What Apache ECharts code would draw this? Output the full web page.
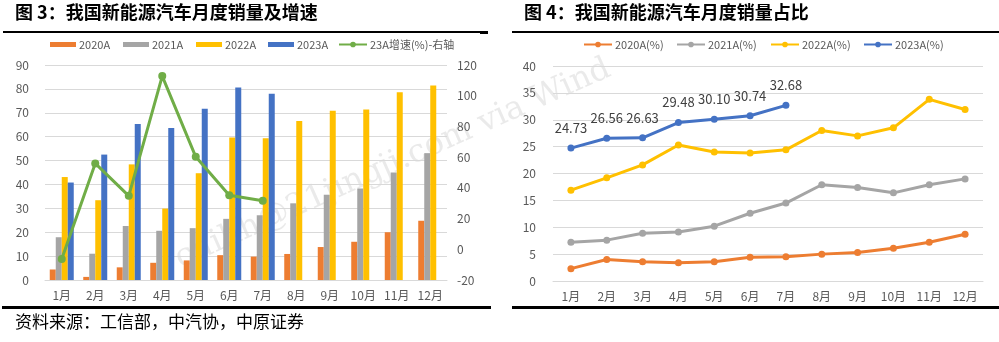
<!DOCTYPE html>
<html><head><meta charset="utf-8">
<script src="https://cdn.jsdelivr.net/npm/echarts@6/dist/echarts.min.js"></script>
<style>html,body{margin:0;padding:0;background:#fff}#c{width:999px;height:342px}</style>
</head><body><div id="c"></div>
<script>
const months = ['1月','2月','3月','4月','5月','6月','7月','8月','9月','10月','11月','12月'];
// 图3: monthly NEV sales (万辆) and 2023 growth (%)
const sales2020 = [4.4, 1.3, 5.3, 7.2, 8.2, 10.4, 9.8, 10.9, 13.8, 16.0, 20.0, 24.8];
const sales2021 = [17.9, 11.0, 22.6, 20.6, 21.7, 25.6, 27.1, 32.1, 35.7, 38.3, 45.0, 53.1];
const sales2022 = [43.1, 33.4, 48.4, 29.9, 44.7, 59.6, 59.3, 66.6, 70.8, 71.4, 78.6, 81.4];
const sales2023 = [40.8, 52.5, 65.3, 63.6, 71.7, 80.6, 78.0, null, null, null, null, null];
const growth2023 = [-6.3, 55.9, 34.8, 112.8, 60.2, 35.2, 31.6, null, null, null, null, null];
const leftTicks = [0, 10, 20, 30, 40, 50, 60, 70, 80, 90];
const rightTicks = [-20, 0, 20, 40, 60, 80, 100, 120];
// 图4: monthly NEV share (%)
const share2020 = [2.3, 4.0, 3.6, 3.4, 3.6, 4.4, 4.5, 5.0, 5.3, 6.1, 7.2, 8.7];
const share2021 = [7.2, 7.6, 8.9, 9.1, 10.2, 12.6, 14.5, 17.9, 17.4, 16.4, 17.9, 19.0];
const share2022 = [16.9, 19.2, 21.6, 25.3, 24.0, 23.8, 24.4, 28.0, 27.0, 28.5, 33.8, 31.9];
const share2023 = [24.73, 26.56, 26.63, 29.48, 30.10, 30.74, 32.68, null, null, null, null, null];
const shareTicks = [0, 5, 10, 15, 20, 25, 30, 35, 40];

const C = {o:'#ed7d31', g:'#a5a5a5', y:'#ffc000', b:'#4472c4', gr:'#70ad47'};
const FONT = '"Noto Sans CJK SC", "Noto Sans", sans-serif';
const axisLbl = {color:'#595959', fontSize:12, fontFamily:FONT};
const chart = echarts.init(document.getElementById('c'), null, {renderer:'canvas'});

function leg(name, x, icon, opts) {
  return Object.assign({
    data:[name], left:x, top:34, icon:icon, itemWidth:26, itemHeight:5, itemGap:0,
    textStyle:{color:'#595959', fontSize:11, fontFamily:FONT, padding:[0,0,0,-2]}
  }, opts||{});
}
const lineLeg = {itemWidth:28, itemHeight:7};

chart.setOption({
  animation:false,
  textStyle:{fontFamily:FONT},
  legend:[
    leg('2020A', 45, 'rect'), leg('2021A', 118, 'rect'), leg('2022A', 191, 'rect'), leg('2023A', 263, 'rect'),
    leg('23A增速(%)-右轴', 333, undefined, lineLeg),
    leg('2020A(%)', 578, undefined, lineLeg), leg('2021A(%)', 671, undefined, lineLeg),
    leg('2022A(%)', 765, undefined, lineLeg), leg('2023A(%)', 858, undefined, lineLeg)
  ],
  grid:[
    {left:45, right:552, top:65, bottom:62},
    {left:553, right:16, top:66, bottom:61}
  ],
  xAxis:[
    {type:'category', gridIndex:0, data:months, boundaryGap:true,
     axisLine:{lineStyle:{color:'#d9d9d9'}}, axisTick:{show:false},
     axisLabel:Object.assign({margin:9}, axisLbl)},
    {type:'category', gridIndex:1, data:months, boundaryGap:true,
     axisLine:{lineStyle:{color:'#d9d9d9'}}, axisTick:{show:false},
     axisLabel:Object.assign({margin:9}, axisLbl)}
  ],
  yAxis:[
    {type:'value', gridIndex:0, min:leftTicks[0], max:leftTicks[leftTicks.length-1], interval:10,
     axisLine:{show:false}, axisTick:{show:false}, splitLine:{lineStyle:{color:'#d9d9d9'}},
     axisLabel:Object.assign({margin:16}, axisLbl)},
    {type:'value', gridIndex:0, position:'right', min:rightTicks[0], max:rightTicks[rightTicks.length-1], interval:20,
     axisLine:{show:false}, axisTick:{show:false}, splitLine:{show:false},
     axisLabel:Object.assign({margin:10}, axisLbl)},
    {type:'value', gridIndex:1, min:shareTicks[0], max:shareTicks[shareTicks.length-1], interval:5,
     axisLine:{show:false}, axisTick:{show:false}, splitLine:{lineStyle:{color:'#d9d9d9'}},
     axisLabel:Object.assign({margin:17}, axisLbl)}
  ],
  series:[
    {name:'2020A', type:'bar', xAxisIndex:0, yAxisIndex:0, data:sales2020, barWidth:6, barGap:'0%', itemStyle:{color:C.o}},
    {name:'2021A', type:'bar', xAxisIndex:0, yAxisIndex:0, data:sales2021, barWidth:6, barGap:'0%', itemStyle:{color:C.g}},
    {name:'2022A', type:'bar', xAxisIndex:0, yAxisIndex:0, data:sales2022, barWidth:6, barGap:'0%', itemStyle:{color:C.y}},
    {name:'2023A', type:'bar', xAxisIndex:0, yAxisIndex:0, data:sales2023, barWidth:6, barGap:'0%', itemStyle:{color:C.b}},
    {name:'23A增速(%)-右轴', type:'line', xAxisIndex:0, yAxisIndex:1, data:growth2023,
     symbol:'circle', symbolSize:8, lineStyle:{width:3, color:C.gr}, itemStyle:{color:C.gr}, z:5},
    {name:'2020A(%)', type:'line', xAxisIndex:1, yAxisIndex:2, data:share2020,
     symbol:'circle', symbolSize:7, lineStyle:{width:3, color:C.o}, itemStyle:{color:C.o}},
    {name:'2021A(%)', type:'line', xAxisIndex:1, yAxisIndex:2, data:share2021,
     symbol:'circle', symbolSize:7, lineStyle:{width:3, color:C.g}, itemStyle:{color:C.g}},
    {name:'2022A(%)', type:'line', xAxisIndex:1, yAxisIndex:2, data:share2022,
     symbol:'circle', symbolSize:7, lineStyle:{width:3, color:C.y}, itemStyle:{color:C.y}},
    {name:'2023A(%)', type:'line', xAxisIndex:1, yAxisIndex:2, data:share2023,
     symbol:'circle', symbolSize:7, lineStyle:{width:3, color:C.b}, itemStyle:{color:C.b},
     label:{show:true, position:'top', distance:10, color:'#404040', fontSize:13, fontFamily:FONT,
            formatter:p => p.value.toFixed(2)}}
  ],
  graphic:[
    {type:'text', left:15, top:3, style:{text:'图 3：我国新能源汽车月度销量及增速', fill:'#000', font:'bold 18px ' + FONT}},
    {type:'text', left:524, top:3, style:{text:'图 4：我国新能源汽车月度销量占比', fill:'#000', font:'bold 18px ' + FONT}},
    {type:'rect', shape:{x:3, y:31, width:485, height:2}, style:{fill:'#000'}},
    {type:'rect', shape:{x:480, y:31, width:8, height:3}, style:{fill:'#000'}},
    {type:'rect', shape:{x:512, y:31, width:487, height:2}, style:{fill:'#000'}},
    {type:'rect', shape:{x:2, y:306, width:489, height:3}, style:{fill:'#000'}},
    {type:'rect', shape:{x:512, y:306, width:487, height:3}, style:{fill:'#000'}},
    {type:'text', left:15, top:313, style:{text:'资料来源：工信部，中汽协，中原证券', fill:'#000', font:'17px ' + FONT}},
    {type:'text', x:393, y:164, rotation:0.42, z:-1,
     style:{text:'cuihh@21jingji.com via Wind', fill:'rgba(160,160,160,0.22)', font:'32px "DejaVu Serif", serif', align:'center', verticalAlign:'middle'}}
  ]
});
</script></body></html>
